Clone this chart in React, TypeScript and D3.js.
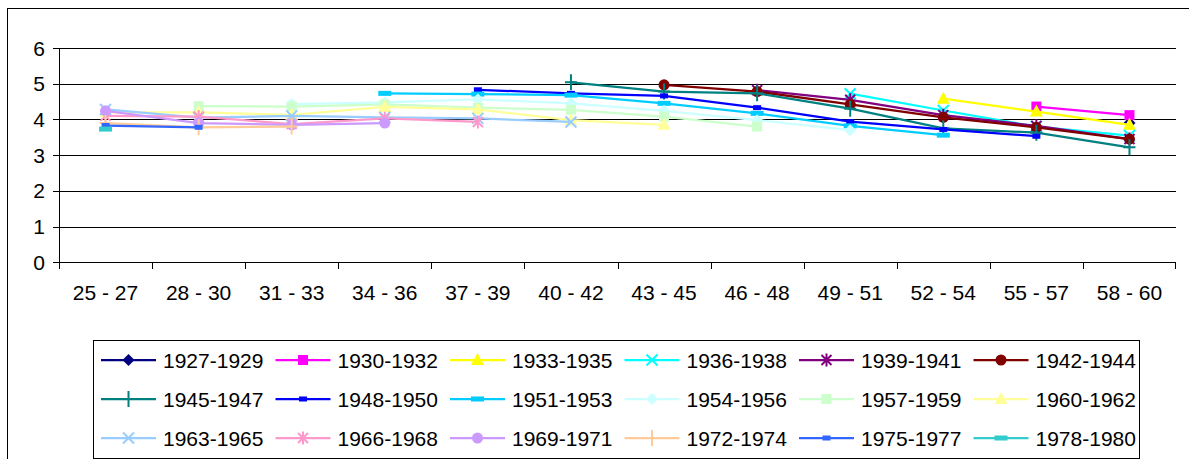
import React from "react";
import * as d3 from "d3";

const ageGroups = ["25 - 27", "28 - 30", "31 - 33", "34 - 36", "37 - 39", "40 - 42", "43 - 45", "46 - 48", "49 - 51", "52 - 54", "55 - 57", "58 - 60"];
const cohorts = ["1927-1929", "1930-1932", "1933-1935", "1936-1938", "1939-1941", "1942-1944", "1945-1947", "1948-1950", "1951-1953", "1954-1956", "1957-1959", "1960-1962", "1963-1965", "1966-1968", "1969-1971", "1972-1974", "1975-1977", "1978-1980"];
const yTicks = [0, 1, 2, 3, 4, 5, 6];

const N = null;
const v1927 = [N, N, N, N, N, N, N, N, N, N, N, 3.9];
const v1930 = [N, N, N, N, N, N, N, N, N, N, 4.36, 4.12];
const v1933 = [N, N, N, N, N, N, N, N, N, 4.58, 4.22, 3.85];
const v1936 = [N, N, N, N, N, N, N, N, 4.72, 4.25, 3.8, 3.55];
const v1939 = [N, N, N, N, N, N, N, 4.82, 4.55, 4.12, 3.82, 3.45];
const v1942 = [N, N, N, N, N, N, 4.97, 4.78, 4.42, 4.06, 3.78, 3.45];
const v1945 = [N, N, N, N, N, 5.04, 4.78, 4.73, 4.3, 3.75, 3.63, 3.22];
const v1948 = [N, N, N, N, 4.83, 4.73, 4.66, 4.33, 3.94, 3.72, 3.53, N];
const v1951 = [N, N, N, 4.73, 4.71, 4.68, 4.45, 4.17, 3.82, 3.56, N, N];
const v1954 = [N, N, 4.43, 4.48, 4.56, 4.45, 4.24, 3.98, 3.7, N, N, N];
const v1957 = [N, 4.37, 4.36, 4.42, 4.33, 4.27, 4.08, 3.8, N, N, N, N];
const v1960 = [4.2, 4.2, 4.13, 4.35, 4.28, 3.98, 3.85, N, N, N, N, N];
const v1963 = [4.28, 4.05, 4.1, 4.06, 4.03, 3.93, N, N, N, N, N, N];
const v1966 = [4.1, 4.08, 3.87, 4.03, 3.93, N, N, N, N, N, N, N];
const v1969 = [4.24, 3.9, 3.85, 3.9, N, N, N, N, N, N, N, N];
const v1972 = [3.9, 3.78, 3.8, N, N, N, N, N, N, N, N, N];
const v1975 = [3.83, 3.78, N, N, N, N, N, N, N, N, N, N];
const v1978 = [3.73, N, N, N, N, N, N, N, N, N, N, N];

const seriesValues = [v1927, v1930, v1933, v1936, v1939, v1942, v1945, v1948, v1951, v1954, v1957, v1960, v1963, v1966, v1969, v1972, v1975, v1978];
const seriesColors = ["#000080", "#FF00FF", "#FFFF00", "#00FFFF", "#800080", "#800000", "#008080", "#0000FF", "#00CCFF", "#CCFFFF", "#CCFFCC", "#FFFF99", "#99CCFF", "#FF99CC", "#CC99FF", "#FFCC99", "#3366FF", "#33CCCC"];
const seriesMarkers = ["diamond", "square", "triangle", "x", "star", "circle", "plus", "shortdash", "longdash", "diamond", "square", "triangle", "x", "star", "circle", "plus", "shortdash", "longdash"];

const W = 1189;
const H = 459;
const FONT = "Arial, 'Liberation Sans', sans-serif";

function Marker({ type, color, x, y }: { type: string; color: string; x: number; y: number }) {
  const t = `translate(${x},${y})`;
  switch (type) {
    case "diamond":
      return <path transform={t} d="M0,-6L6,0L0,6L-6,0Z" fill={color} />;
    case "square":
      return <rect transform={t} x={-5} y={-5} width={10} height={10} fill={color} />;
    case "triangle":
      return <path transform={t} d="M0,-7L6.5,5L-6.5,5Z" fill={color} />;
    case "x":
      return <path transform={t} d="M-5.5,-5.5L5.5,5.5M-5.5,5.5L5.5,-5.5" stroke={color} strokeWidth={2} fill="none" />;
    case "star":
      return <path transform={t} d="M-5,-5L5,5M-5,5L5,-5M0,-6.5L0,6.5" stroke={color} strokeWidth={2} fill="none" />;
    case "circle":
      return <circle transform={t} r={5.5} fill={color} />;
    case "plus":
      return <path transform={t} d="M0,-8L0,8M-6,0L6,0" stroke={color} strokeWidth={2} fill="none" />;
    case "shortdash":
      return <rect transform={t} x={-4} y={-2.5} width={8} height={5} fill={color} />;
    case "longdash":
      return <rect transform={t} x={-6.5} y={-2.5} width={13} height={5} fill={color} />;
    default:
      return null;
  }
}

export default function App() {
  const left = 59;
  const right = 1176;
  const top = 48;
  const bottom = 262.3;

  const x = d3.scaleBand<string>().domain(ageGroups).range([left, right]).padding(0);
  const y = d3.scaleLinear().domain([0, 6]).range([bottom, top]);
  const cx = (i: number) => (x(ageGroups[i]) as number) + x.bandwidth() / 2;

  const line = d3
    .line<number | null>()
    .defined((d) => d !== null)
    .x((_d, i) => cx(i))
    .y((d) => y(d as number));

  const legendColW = 174.5;
  const legendX0 = 101;
  const legendY0 = 360;
  const legendRowH = 39;

  return (
    <svg width={W} height={H} style={{ position: "absolute", left: 0, top: 0, background: "#fff" }} fontFamily={FONT}>
      <rect x={0} y={0} width={W} height={H} fill="#fff" />
      {/* outer chart frame */}
      <rect x={7.5} y={8.5} width={W + 20} height={H + 20} fill="none" stroke="#000" strokeWidth={1} />

      {/* gridlines */}
      {yTicks.map((t) => (
        <line key={"g" + t} x1={left} x2={right} y1={Math.round(y(t)) + 0.5} y2={Math.round(y(t)) + 0.5} stroke="#000" strokeWidth={1} />
      ))}
      {/* y axis */}
      <line x1={left + 0.5} x2={left + 0.5} y1={Math.round(y(6)) + 0.5} y2={Math.round(y(0)) + 0.5} stroke="#000" />
      {yTicks.map((t) => (
        <g key={"yt" + t}>
          <line x1={left - 6} x2={left} y1={Math.round(y(t)) + 0.5} y2={Math.round(y(t)) + 0.5} stroke="#000" />
          <text x={45} y={y(t) + 7.5} textAnchor="end" fontSize={21} fill="#000">
            {t}
          </text>
        </g>
      ))}
      {/* x ticks */}
      {ageGroups.map((g, i) => (
        <line key={"xt" + i} x1={Math.round(x(g) as number) + 0.5} x2={Math.round(x(g) as number) + 0.5} y1={Math.round(y(0))} y2={Math.round(y(0)) + 7} stroke="#000" />
      ))}
      <line x1={right - 0.5} x2={right - 0.5} y1={Math.round(y(0))} y2={Math.round(y(0)) + 7} stroke="#000" />
      {ageGroups.map((g, i) => (
        <text key={"xl" + i} x={cx(i)} y={300} textAnchor="middle" fontSize={21} fill="#000">
          {g}
        </text>
      ))}

      {/* series */}
      {seriesValues.map((vals, s) => (
        <g key={"s" + s}>
          <path d={line(vals) || ""} fill="none" stroke={seriesColors[s]} strokeWidth={2.25} />
          {vals.map((v, i) =>
            v === null ? null : <Marker key={i} type={seriesMarkers[s]} color={seriesColors[s]} x={cx(i)} y={y(v)} />
          )}
        </g>
      ))}

      {/* legend */}
      <rect x={93.5} y={340.5} width={1046} height={118} fill="#fff" stroke="#000" strokeWidth={1} />
      {cohorts.map((c, i) => {
        const col = i % 6;
        const row = Math.floor(i / 6);
        const lx = legendX0 + col * legendColW;
        const ly = legendY0 + row * legendRowH;
        return (
          <g key={"l" + i}>
            <line x1={lx} x2={lx + 55} y1={ly} y2={ly} stroke={seriesColors[i]} strokeWidth={2.25} />
            <Marker type={seriesMarkers[i]} color={seriesColors[i]} x={lx + 27.5} y={ly} />
            <text x={lx + 62} y={ly + 7.5} fontSize={21} fill="#000">
              {c}
            </text>
          </g>
        );
      })}
    </svg>
  );
}
